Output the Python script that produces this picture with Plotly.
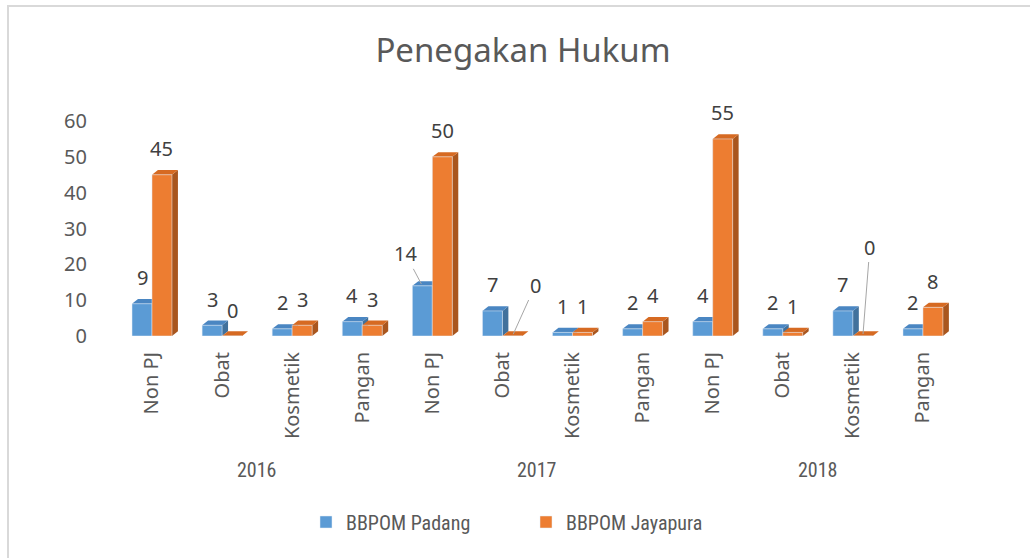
import plotly.graph_objects as go

years = ["2016", "2017", "2018"]
categories = ["Non PJ", "Obat", "Kosmetik", "Pangan"]
padang = [9, 3, 2, 4, 14, 7, 1, 2, 4, 2, 7, 2]
jayapura = [45, 0, 3, 3, 50, 0, 1, 4, 55, 1, 0, 8]
y_ticks = [0, 10, 20, 30, 40, 50, 60]

labels = [c for _ in years for c in categories]
xs = list(range(len(labels)))

BLUE, BLUE_SIDE, BLUE_TOP = "#5B9BD5", "#41719C", "#4A86C2"
ORANGE, ORANGE_SIDE, ORANGE_TOP = "#ED7D31", "#A9561E", "#D66A22"
TXT = "#595959"
LBL = "#404040"
FONT = "Noto Sans, Open Sans, sans-serif"
NARROW = "Liberation Sans Narrow, Roboto Condensed, Noto Sans, sans-serif"

W = 0.285          # bar width in category units
DX = 0.085         # 3D depth in x units
DY = 1.3           # 3D depth in y units

fig = go.Figure()
fig.add_trace(go.Bar(x=xs, y=padang, name="BBPOM Padang", marker_color=BLUE,
                     width=W, offset=-W, hoverinfo="x+y"))
fig.add_trace(go.Bar(x=xs, y=jayapura, name="BBPOM Jayapura", marker_color=ORANGE,
                     width=W, offset=0, hoverinfo="x+y"))

shapes = []
def faces(x0, x1, v, side, top):
    shapes.append(dict(type="path", xref="x", yref="y", layer="below",
                       path=f"M{x1},0 L{x1+DX},{DY} L{x1+DX},{v+DY} L{x1},{v} Z",
                       fillcolor=side, line=dict(width=0)))
    shapes.append(dict(type="path", xref="x", yref="y", layer="below",
                       path=f"M{x0},{v} L{x0+DX},{v+DY} L{x1+DX},{v+DY} L{x1},{v} Z",
                       fillcolor=top, line=dict(width=0)))

for i, (p, j) in enumerate(zip(padang, jayapura)):
    faces(i - W, i, p, BLUE_SIDE, BLUE_TOP)
    faces(i, i + W, j, ORANGE_SIDE, ORANGE_TOP)

L, R, T, B = 92, 72, 121, 222
PW, PH = 1030 - L - R, 558 - T - B
px = lambda p: (p - L) / PW
py = lambda p: (558 - B - p) / PH
shapes.append(dict(type="path", xref="paper", yref="paper", layer="above",
                   path=f"M{px(8)},{py(570)} L{px(8)},{py(6)} L{px(1040)},{py(6)}",
                   line=dict(color="#D9D9D9", width=2)))

annotations = []
# data labels; some have leader lines (label offset in px)
leader = {(0, 4): (-17, -32), (1, 5): (23, -51), (1, 10): (7, -89)}
for s, (vals, off) in enumerate([(padang, -W / 2), (jayapura, W / 2)]):
    for i, v in enumerate(vals):
        if (s, i) in leader:
            ax, ay = leader[(s, i)]
            annotations.append(dict(x=i + off, y=v, xref="x", yref="y", text=str(v),
                                    showarrow=True, arrowhead=0, arrowwidth=1,
                                    arrowcolor="#A6A6A6", ax=ax, ay=ay, standoff=2,
                                    font=dict(size=20, color=LBL, family=FONT)))
        else:
            annotations.append(dict(x=i + off, y=v, xref="x", yref="y", text=str(v),
                                    showarrow=False, yanchor="middle", yshift=26,
                                    font=dict(size=20, color=LBL, family=FONT)))
# year group labels
for k, yr in enumerate(years):
    annotations.append(dict(x=k * len(categories) + (len(categories) - 1) / 2,
                            y=py(470), xref="x", yref="paper", text=yr,
                            showarrow=False, yanchor="middle",
                            font=dict(size=20, color=TXT, family=NARROW)))

fig.update_layout(
    width=1030, height=558,
    margin=dict(l=L, r=R, t=T, b=B),
    paper_bgcolor="white", plot_bgcolor="white",
    title=dict(text="Penegakan Hukum", xref="container", x=523 / 1030, xanchor="center",
               y=1 - 50 / 558, yanchor="middle",
               font=dict(size=33, color=TXT, family=FONT)),
    barmode="overlay",
    showlegend=True,
    legend=dict(orientation="h", x=px(306), xanchor="left", y=py(522), yanchor="middle",
                font=dict(size=20, color=TXT, family=NARROW),
                entrywidth=175, entrywidthmode="pixels", traceorder="normal"),
    xaxis=dict(range=[-0.856, 11.5], tickmode="array", tickvals=xs, ticktext=labels,
               tickangle=-90, showgrid=False, zeroline=False, showline=False,
               ticks="", ticklabelstandoff=11,
               tickfont=dict(size=20, color=TXT, family=FONT)),
    yaxis=dict(range=[0, 60], tickmode="array", tickvals=y_ticks, showgrid=False,
               zeroline=False, showline=False, ticks="", ticklabelstandoff=4,
               tickfont=dict(size=20, color=TXT, family=FONT)),
    shapes=shapes, annotations=annotations,
)

fig.write_html("out.html", config={"displayModeBar": False},
               post_script="document.body.style.margin='0';document.body.style.padding='0';")
